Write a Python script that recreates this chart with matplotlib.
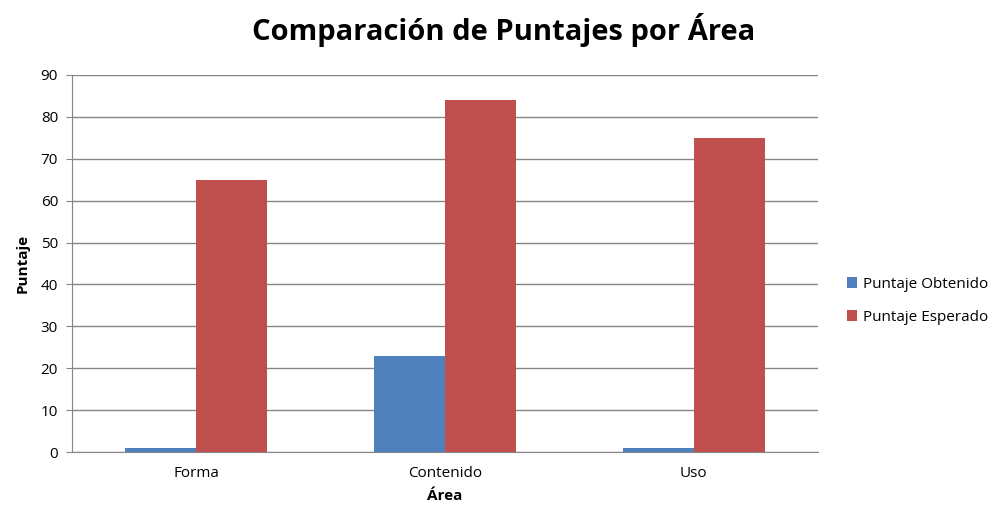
import numpy as np
import matplotlib.pyplot as plt

areas = ['Forma', 'Contenido', 'Uso']
obtenido = [1, 23, 1]
esperado = [65, 84, 75]

plt.rcParams['font.family'] = ['Open Sans', 'DejaVu Sans']

fig = plt.figure(figsize=(10.07, 5.14), dpi=100)
ax = fig.add_axes([72 / 1007, 62 / 514, 746 / 1007, 377 / 514])

x = np.arange(len(areas))
w = 0.285
ax.bar(x - w / 2, obtenido, w, color='#4F81BD', label='Puntaje Obtenido', zorder=3)
ax.bar(x + w / 2, esperado, w, color='#C0504D', label='Puntaje Esperado', zorder=3)

ax.set_xlim(-0.5, 2.5)
ax.set_ylim(0, 90)
ax.set_yticks(range(0, 91, 10))
ax.set_xticks(x)
ax.set_xticklabels(areas)
ax.yaxis.grid(True, color='#868686', linewidth=1, zorder=0)
for s in ['top', 'right']:
    ax.spines[s].set_visible(False)
for s in ['left', 'bottom']:
    ax.spines[s].set_color('#868686')
ax.tick_params(axis='y', length=4, color='#868686', labelsize=11, pad=6)
ax.tick_params(axis='x', length=0, labelsize=11, pad=10)

ax.set_xlabel('Área', fontsize=11, fontweight='bold', labelpad=6)
ax.set_ylabel('Puntaje', fontsize=11, fontweight='bold', labelpad=8)
fig.suptitle('Comparación de Puntajes por Área', fontsize=21, fontweight='bold', x=0.5, y=0.975)

fig.legend(loc='center left', bbox_to_anchor=(833 / 1007, 0.415), frameon=False,
           fontsize=11, handlelength=0.7, handleheight=0.7, handletextpad=0.35, labelspacing=1.2)

fig.savefig('out.png', dpi=100)
